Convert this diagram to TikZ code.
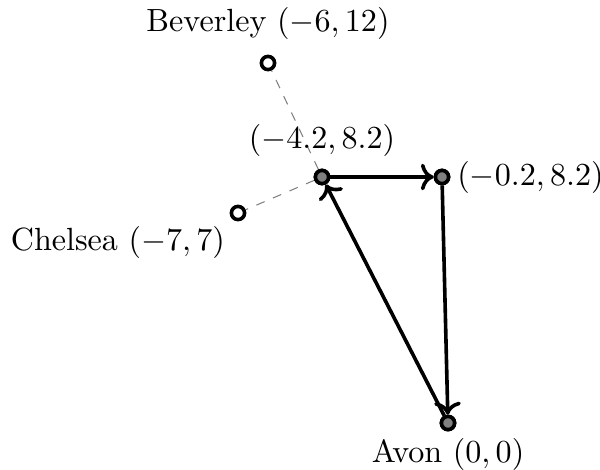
\documentclass[tikz,border=0pt]{standalone}
\usetikzlibrary{arrows.meta}
\begin{document}
\begin{tikzpicture}[x=10pt,y=10pt,
  town/.style={circle,draw=black,line width=1.2pt,fill=gray,inner sep=0pt,minimum size=4.4pt},
  opentown/.style={town,fill=white},
  road/.style={line width=1.2pt,->},
  link/.style={gray,dashed,line width=0.35pt},
  lbl/.style={inner sep=2pt,scale=1.07}]
\useasboundingbox (-14.933,-1.533) rectangle (5.067,14.1);
\node[town] (A) at (0,0) {};
\node[town] (P) at (-0.2,8.2) {};
\node[town] (Q) at (-4.2,8.2) {};
\node[opentown] (B) at (-6,12) {};
\node[opentown] (C) at (-7,7) {};
\draw[link] (Q) -- (B);
\draw[link] (Q) -- (C);
\draw[road] (Q) -- (P);
\draw[road] (P) -- (A);
\draw[road] (A) -- (Q);
\node[town] at (Q) {};
\node[town] at (P) {};
\node[town] at (A) {};
\node[lbl,below=0pt] (Al) at (A.south) {Avon $(0,0)$};
\node[lbl,right=0pt] (Pl) at (P.east) {$(-0.2,8.2)$};
\node[lbl,above=1.5pt] (Ql) at (Q.north) {$(-4.2,8.2)$};
\node[lbl,above=2.5pt] (Bl) at (B.north) {Beverley $(-6,12)$};
\node[lbl,below left=0pt] (Cl) at (C.south west) {Chelsea $(-7,7)$};
\end{tikzpicture}
\end{document}
